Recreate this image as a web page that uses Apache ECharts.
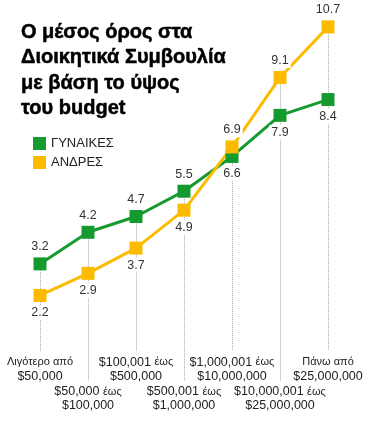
<!DOCTYPE html>
<html><head><meta charset="utf-8">
<script src="https://cdn.jsdelivr.net/npm/echarts@6/dist/echarts.min.js"></script>
<style>html,body{margin:0;padding:0;background:#fff}#c{width:373px;height:434px}</style>
</head><body><div id="c"></div>
<script>
var titleText = 'Ο μέσος όρος στα\nΔιοικητικά Συμβουλία\nμε βάση το ύψος\nτου budget';
var categories = ['Λιγότερο από\n$50,000', '$50,000 έως\n$100,000', '$100,001 έως\n$500,000', '$500,001 έως\n$1,000,000', '$1,000,001 έως\n$10,000,000', '$10,000,001 έως\n$25,000,000', 'Πάνω από\n$25,000,000'];
var women = [3.2, 4.2, 4.7, 5.5, 6.6, 7.9, 8.4];
var men = [2.2, 2.9, 3.7, 4.9, 6.9, 9.1, 10.7];
var seriesNames = ['ΓΥΝΑΙΚΕΣ', 'ΑΝΔΡΕΣ'];

var GREEN = '#149a2e', YELLOW = '#fdbb00';
var FONT = '"Liberation Sans", Arial, sans-serif';

function richLabel(s) {
  return s.split('\n').map(function (line) {
    return line.replace(/(έως|Λιγότερο από|Πάνω από)/, '{s|$1}');
  }).join('\n');
}

var dropLines = categories.map(function (c, i) {
  var top = Math.max(women[i], men[i]);
  var bottom = (i % 2 === 0) ? 0.44 : -0.5;
  return [
    { coord: [i, top] },
    { coord: [i, bottom], label: { formatter: richLabel(c) } }
  ];
});

function pointData(vals, aboveFromStart) {
  return vals.map(function (v, i) {
    var above = aboveFromStart ? (i < 4) : (i >= 4);
    return { value: v, label: { position: above ? 'top' : 'bottom' } };
  });
}

var valueLabel = {
  show: true, color: '#333', fontSize: 12.5, fontFamily: FONT,
  distance: 3, backgroundColor: '#fff', padding: [1, 2]
};

var chart = echarts.init(document.getElementById('c'), null, { renderer: 'canvas' });
chart.setOption({
  animation: false,
  backgroundColor: '#fff',
  title: {
    text: titleText, left: 21, top: 20, padding: 0,
    textStyle: { fontFamily: FONT, fontSize: 20, fontWeight: 'bold', color: '#000', lineHeight: 25.3,
      textBorderColor: '#000', textBorderWidth: 0.5 }
  },
  legend: {
    data: seriesNames, orient: 'vertical', left: 33, top: 137, padding: 0,
    icon: 'rect', itemWidth: 13, itemHeight: 13, itemGap: 6,
    textStyle: { fontFamily: FONT, fontSize: 13, color: '#222' }
  },
  grid: { left: 40, right: 45, top: 17.4, bottom: 5.8 },
  xAxis: { type: 'category', data: categories, boundaryGap: false, show: false },
  yAxis: { type: 'value', min: -2, max: 11, show: false },
  series: [
    {
      type: 'line', data: [], z: 1, silent: true,
      markLine: {
        z: 1, silent: true, symbol: ['none', 'none'], animation: false,
        lineStyle: { type: 'dotted', color: '#a8a8a8', width: 1 },
        label: {
          show: true, position: 'end', distance: 4, color: '#222',
          fontFamily: FONT, fontSize: 12.5, lineHeight: 14,
          rich: { s: { fontSize: 11, fontFamily: FONT, color: '#222', lineHeight: 14 } }
        },
        data: dropLines
      }
    },
    {
      name: seriesNames[0], type: 'line', z: 3, data: pointData(women, true),
      symbol: 'rect', symbolSize: 13, showAllSymbol: true,
      itemStyle: { color: GREEN }, lineStyle: { color: GREEN, width: 3 },
      label: valueLabel
    },
    {
      name: seriesNames[1], type: 'line', z: 3, data: pointData(men, false),
      symbol: 'rect', symbolSize: 13, showAllSymbol: true,
      itemStyle: { color: YELLOW }, lineStyle: { color: YELLOW, width: 3 },
      label: valueLabel
    }
  ]
});
</script>
</body></html>
